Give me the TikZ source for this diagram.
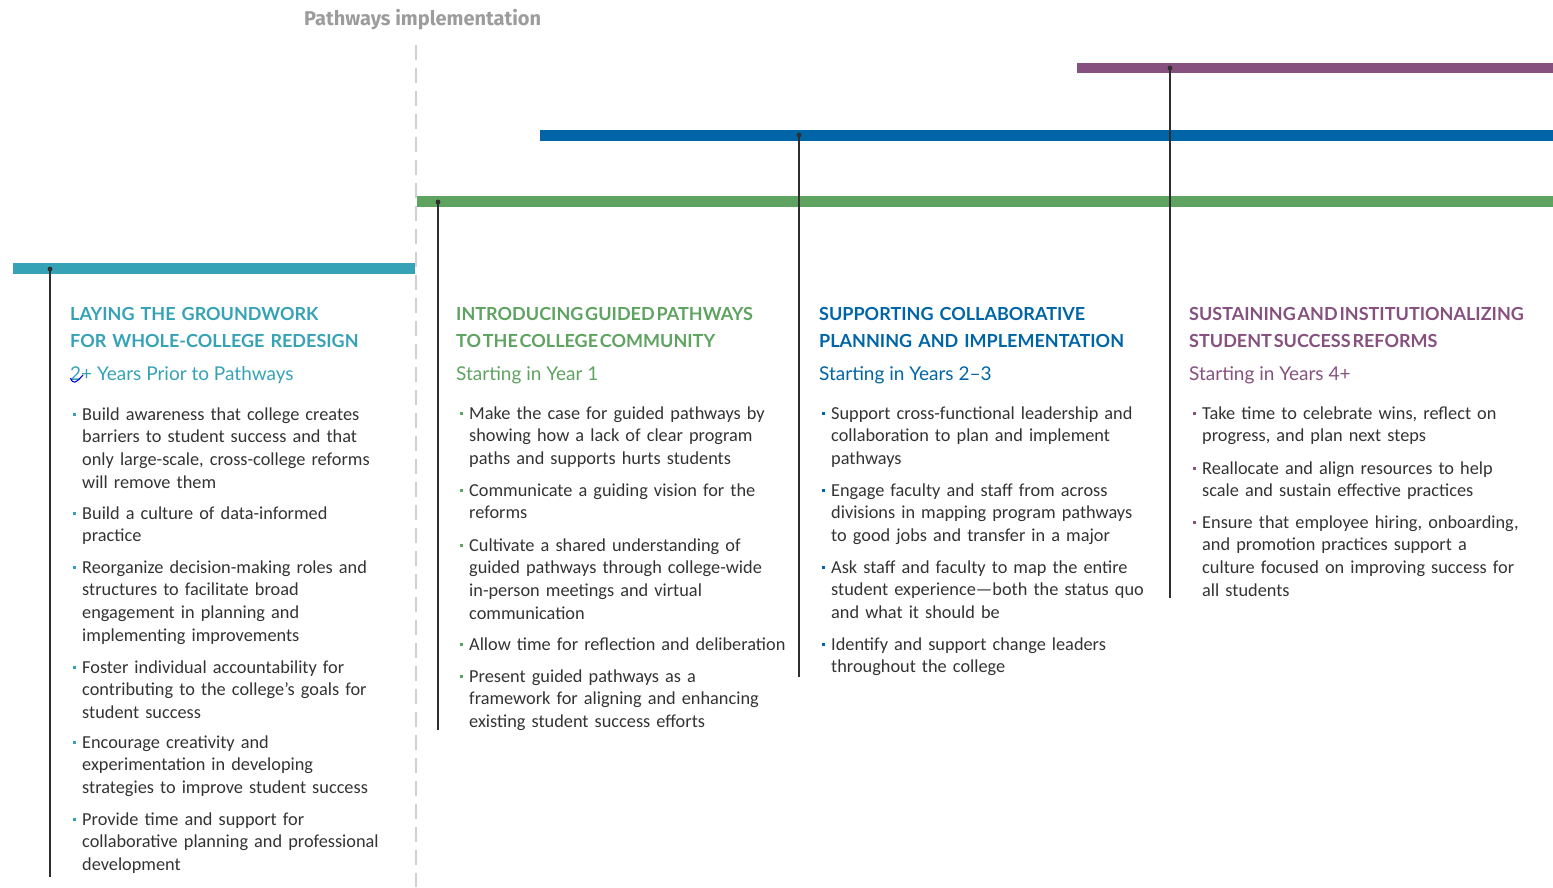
\documentclass[tikz,border=0pt]{standalone}
\usepackage{fontspec}
\setmainfont{Carlito}
\newfontfamily\headfont{Lato}
\newfontfamily\titlefont{Fira Sans}
\definecolor{cteal}{HTML}{35A3B5}
\definecolor{cgreen}{HTML}{5EA360}
\definecolor{cblue}{HTML}{0065A7}
\definecolor{cpurple}{HTML}{86507F}
\definecolor{ctitle}{HTML}{9C9C9C}
\definecolor{cbody}{HTML}{333333}
\definecolor{cstem}{HTML}{2E2E2E}
\definecolor{cdash}{HTML}{D0D0D0}
\newcommand{\bul}[1]{\llap{\makebox[9pt][l]{\textcolor{#1}{\rule[4.5pt]{3pt}{3pt}}}}}
\begin{document}
\begin{tikzpicture}[x=1pt,y=-1pt,
  bar/.style={line width=10.5pt},
  stem/.style={draw=cstem, line width=1.5pt},
  head/.style={anchor=base west, inner sep=0pt, align=left, text width=360pt,
    font=\headfont\bfseries\fontsize{18}{27.5}\selectfont},
  sub/.style={anchor=base west, inner sep=0pt,
    font=\headfont\fontsize{19}{20}\selectfont},
  itembox/.style={anchor=base west, inner sep=0pt, align=left, text=cbody,
    text width=330pt, font=\fontsize{18.3}{22.8}\selectfont},
  ttl/.style={anchor=base west, inner sep=0pt, text=ctitle,
    font=\titlefont\bfseries\fontsize{20}{22}\selectfont}]
\useasboundingbox (0,0) rectangle (1553,887);

% title
\node[ttl] (title) at (304,25) {Pathways implementation};

% dashed divider
\coordinate (dtop) at (416,45);
\coordinate (dbot) at (416,887);
\draw[cdash, line width=1.6pt, dash pattern=on 15pt off 8pt] (dtop) -- (dbot);

% bars
\draw[bar, cpurple] (1077,68) -- (1553,68);
\draw[bar, cblue] (540,135.5) -- (1553,135.5);
\draw[bar, cgreen] (417,201.5) -- (1553,201.5);
\draw[bar, cteal] (13,268.5) -- (415,268.5);

% stems
\coordinate (t1) at (50,269);   \coordinate (b1) at (50,877);
\coordinate (t2) at (438,202);  \coordinate (b2) at (438,730);
\coordinate (t3) at (799,135);  \coordinate (b3) at (799,677);
\coordinate (t4) at (1170,68);  \coordinate (b4) at (1170,598);
\foreach \i in {1,2,3,4}{
  \draw[stem] (t\i) -- (b\i);
  \fill[cstem] (t\i) circle (2.4pt);
}

% ---------- column 1
\node[head, text=cteal] (h1) at (70,320) {LAYING THE GROUNDWORK\\FOR WHOLE-COLLEGE REDESIGN};
\node[sub, text=cteal] (s1) at (70,380) {2+ Years Prior to Pathways};
\draw[blue!85!black, line width=1.1pt] (70.5,378) .. controls (73,384) and (75,384) .. (83,375);
\node[itembox] (c1a) at (82,420) {\bul{cteal}Build awareness that college creates\\barriers to student success and that\\only large-scale, cross-college reforms\\will remove them};
\node[itembox] (c1b) at (82,519) {\bul{cteal}Build a culture of data-informed\\practice};
\node[itembox] (c1c) at (82,573) {\bul{cteal}Reorganize decision-making roles and\\structures to facilitate broad\\engagement in planning and\\implementing improvements};
\node[itembox] (c1d) at (82,673) {\bul{cteal}Foster individual accountability for\\contributing to the college's goals for\\student success};
\node[itembox] (c1e) at (82,748) {\bul{cteal}Encourage creativity and\\experimentation in developing\\strategies to improve student success};
\node[itembox] (c1f) at (82,825) {\bul{cteal}Provide time and support for\\collaborative planning and professional\\development};

% ---------- column 2
\node[head, text=cgreen] (h2) at (456,320) {\spaceskip=0.1em INTRODUCING GUIDED PATHWAYS\\TO THE COLLEGE COMMUNITY};
\node[sub, text=cgreen] (s2) at (456,380) {Starting in Year 1};
\node[itembox] (c2a) at (469,419) {\bul{cgreen}Make the case for guided pathways by\\showing how a lack of clear program\\paths and supports hurts students};
\node[itembox] (c2b) at (469,496) {\bul{cgreen}Communicate a guiding vision for the\\reforms};
\node[itembox] (c2c) at (469,551) {\bul{cgreen}Cultivate a shared understanding of\\guided pathways through college-wide\\in-person meetings and virtual\\communication};
\node[itembox] (c2d) at (469,650) {\bul{cgreen}Allow time for reflection and deliberation};
\node[itembox] (c2e) at (469,682) {\bul{cgreen}Present guided pathways as a\\framework for aligning and enhancing\\existing student success efforts};

% ---------- column 3
\node[head, text=cblue] (h3) at (819,320) {SUPPORTING COLLABORATIVE\\PLANNING AND IMPLEMENTATION};
\node[sub, text=cblue] (s3) at (819,380) {Starting in Years 2–3};
\node[itembox] (c3a) at (831,419) {\bul{cblue}Support cross-functional leadership and\\collaboration to plan and implement\\pathways};
\node[itembox] (c3b) at (831,496) {\bul{cblue}Engage faculty and staff from across\\divisions in mapping program pathways\\to good jobs and transfer in a major};
\node[itembox] (c3c) at (831,573) {\bul{cblue}Ask staff and faculty to map the entire\\student experience—both the status quo\\and what it should be};
\node[itembox] (c3d) at (831,650) {\bul{cblue}Identify and support change leaders\\throughout the college};

% ---------- column 4
\node[head, text=cpurple] (h4) at (1189,320) {\spaceskip=0.1em SUSTAINING AND INSTITUTIONALIZING\\STUDENT SUCCESS REFORMS};
\node[sub, text=cpurple] (s4) at (1189,380) {Starting in Years 4+};
\node[itembox] (c4a) at (1202,419) {\bul{cpurple}Take time to celebrate wins, reflect on\\progress, and plan next steps};
\node[itembox] (c4b) at (1202,474) {\bul{cpurple}Reallocate and align resources to help\\scale and sustain effective practices};
\node[itembox] (c4c) at (1202,528) {\bul{cpurple}Ensure that employee hiring, onboarding,\\and promotion practices support a\\culture focused on improving success for\\all students};
\end{tikzpicture}
\end{document}
